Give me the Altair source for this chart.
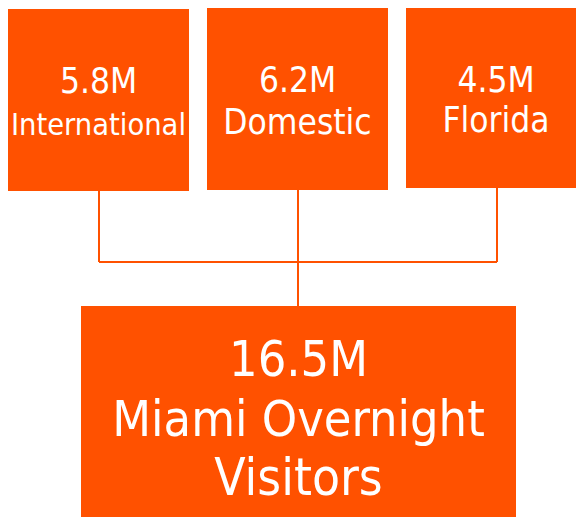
import altair as alt
import pandas as pd

# ---- data ----
values = ["5.8M", "6.2M", "4.5M", "16.5M"]
labels = ["International", "Domestic", "Florida", "Miami Overnight Visitors"]
label_lines = [["International"], ["Domestic"], ["Florida"], ["Miami Overnight", "Visitors"]]

# ---- layout (page pixel coordinates) ----
box_x0 = [8, 207, 406, 81]
box_x1 = [189, 388, 590, 516]
box_y0 = [9, 8, 6, 306]
box_y1 = [191, 190, 188, 540]
box_cx = [98.5, 297.5, 496, 298.5]
value_base = [93, 92, 92, 376]
label_base = [[135], [134], [132], [436, 495]]
value_size = [35, 35, 35, 50]
label_size = [[30.5], [35], [35], [50, 51]]

ORANGE = "#FF5100"
FONT = "DejaVu Sans Condensed"

boxes = pd.DataFrame({"x0": box_x0, "x1": box_x1, "y0": box_y0, "y1": box_y1, "name": labels})

txt_rows = []
for i in range(4):
    cx = box_cx[i]
    txt_rows.append({"x": cx, "y": value_base[i], "t": values[i], "s": value_size[i]})
    for ln, yb, sz in zip(label_lines[i], label_base[i], label_size[i]):
        txt_rows.append({"x": cx, "y": yb, "t": ln, "s": sz})
texts = pd.DataFrame(txt_rows)

conn_x = [99, 298, 497]
bus_y = 262
segs = []
for i, cx in enumerate(conn_x):
    segs.append({"x": cx, "x2": cx, "y": box_y1[i], "y2": bus_y})
segs.append({"x": conn_x[0], "x2": conn_x[2], "y": bus_y, "y2": bus_y})
segs.append({"x": conn_x[1], "x2": conn_x[1], "y": bus_y, "y2": box_y0[3]})
segs = pd.DataFrame(segs)

xs = alt.Scale(domain=[8, 576])
ys = alt.Scale(domain=[8, 517], reverse=True)

rect = alt.Chart(boxes).mark_rect(color=ORANGE, clip=True).encode(
    x=alt.X("x0:Q", scale=xs, axis=None),
    x2="x1:Q",
    y=alt.Y("y0:Q", scale=ys, axis=None),
    y2="y1:Q",
)

lines = alt.Chart(segs).mark_rule(color=ORANGE, strokeWidth=2).encode(
    x=alt.X("x:Q", scale=xs, axis=None),
    x2="x2:Q",
    y=alt.Y("y:Q", scale=ys, axis=None),
    y2="y2:Q",
)

text = alt.Chart(texts).mark_text(
    color="white", font=FONT, fontWeight=300, align="center", baseline="alphabetic"
).encode(
    x=alt.X("x:Q", scale=xs, axis=None),
    y=alt.Y("y:Q", scale=ys, axis=None),
    text="t:N",
    size=alt.Size("s:Q", scale=None, legend=None),
)

chart = (
    alt.layer(lines, rect, text)
    .properties(width=568, height=509, padding=0, autosize=alt.AutoSizeParams(type="none"), background="white")
    .configure_view(stroke=None)
)

chart.save("out.html", embed_options={"renderer": "svg", "actions": False})
